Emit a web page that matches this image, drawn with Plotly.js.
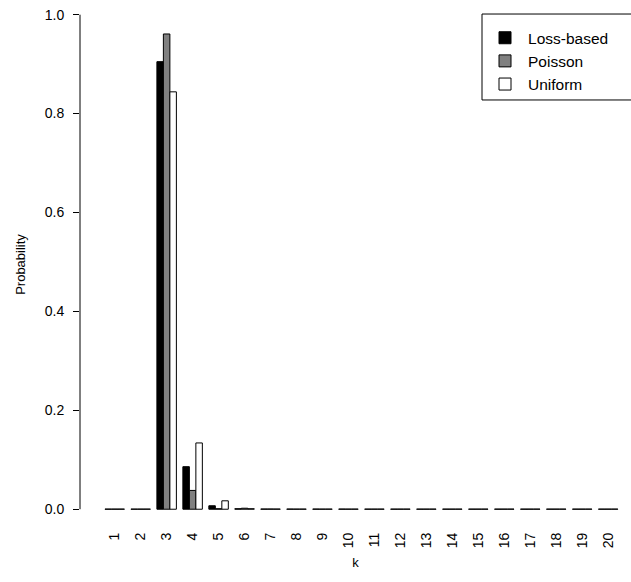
<!DOCTYPE html>
<html>
<head>
<meta charset="utf-8">
<script src="https://cdn.plot.ly/plotly-3.0.1.min.js"></script>
<style>
  html, body { margin: 0; padding: 0; background: #ffffff; }
  #chart { width: 631px; height: 582px; }
</style>
</head>
<body>
<div id="chart"></div>
<script>
// Categories (k) and tick labels
var kValues = [1, 2, 3, 4, 5, 6, 7, 8, 9, 10, 11, 12, 13, 14, 15, 16, 17, 18, 19, 20];
var kLabels = ["1", "2", "3", "4", "5", "6", "7", "8", "9", "10", "11", "12", "13", "14", "15", "16", "17", "18", "19", "20"];

// Series values (probabilities)
var lossBased = [0.0003, 0.0003, 0.905, 0.086, 0.007, 0.001, 0.0005, 0.0004, 0.0004, 0.0004, 0.0003, 0.0003, 0.0003, 0.0003, 0.0003, 0.0003, 0.0003, 0.0003, 0.0003, 0.0003];
var poisson   = [0.0003, 0.0003, 0.961, 0.038, 0.001, 0.002, 0.0005, 0.0003, 0.0003, 0.0003, 0.0003, 0.0003, 0.0003, 0.0003, 0.0003, 0.0003, 0.0003, 0.0003, 0.0003, 0.0003];
var uniform   = [0.0003, 0.0003, 0.844, 0.134, 0.017, 0.001, 0.0004, 0.0003, 0.0003, 0.0003, 0.0003, 0.0003, 0.0003, 0.0003, 0.0003, 0.0003, 0.0003, 0.0003, 0.0003, 0.0003];

var seriesNames = ["Loss-based", "Poisson", "Uniform"];
var yTicks = [0, 0.2, 0.4, 0.6, 0.8, 1.0];

var fontFamily = "Liberation Sans, Arial, sans-serif";

function barTrace(name, values, color) {
  return {
    type: "bar",
    name: name,
    x: kValues,
    y: values,
    marker: { color: color, line: { color: "#000000", width: 1 } },
    hoverinfo: "x+y+name"
  };
}

var data = [
  barTrace(seriesNames[0], lossBased, "#000000"),
  barTrace(seriesNames[1], poisson, "#808080"),
  barTrace(seriesNames[2], uniform, "#ffffff")
];

var layout = {
  width: 631,
  height: 582,
  margin: { l: 80, r: 0, t: 0, b: 53, pad: 0 },
  paper_bgcolor: "#ffffff",
  plot_bgcolor: "#ffffff",
  font: { family: fontFamily, size: 14, color: "#000000" },
  barmode: "group",
  bargap: 0.25,
  bargroupgap: 0,
  showlegend: true,
  legend: {
    x: 0.7296, y: 0.96, xanchor: "left", yanchor: "top",
    bgcolor: "rgba(0,0,0,0)", borderwidth: 0,
    font: { family: fontFamily, size: 15.5, color: "#000000" },
    tracegroupgap: 0,
    itemwidth: 36
  },
  xaxis: {
    type: "linear",
    range: [-0.336, 20.88],
    tickmode: "array",
    tickvals: kValues,
    ticktext: kLabels,
    tickangle: -90,
    ticks: "",
    showline: false,
    showgrid: false,
    zeroline: false,
    tickfont: { family: fontFamily, size: 14, color: "#000000" },
    title: { text: "k", standoff: 10, font: { family: fontFamily, size: 13, color: "#000000" } }
  },
  yaxis: {
    range: [-0.04, 1.0297],
    tickmode: "array",
    tickvals: yTicks,
    tickformat: ".1f",
    ticks: "outside",
    ticklen: 6,
    tickwidth: 1,
    tickcolor: "#000000",
    ticklabelstandoff: 6,
    showline: false,
    showgrid: false,
    zeroline: false,
    tickfont: { family: fontFamily, size: 14, color: "#000000" },
    title: { text: "Probability", standoff: 16, font: { family: fontFamily, size: 13, color: "#000000" } }
  },
  shapes: [
    { type: "line", xref: "paper", yref: "y", x0: 0, x1: 0, y0: yTicks[0], y1: yTicks[yTicks.length - 1],
      line: { color: "#000000", width: 1 } },
    { type: "rect", xref: "paper", yref: "paper", x0: 0.7296, x1: 1.03, y0: 0.811, y1: 0.9735,
      line: { color: "#000000", width: 1 }, fillcolor: "rgba(0,0,0,0)", layer: "above" }
  ]
};

Plotly.newPlot("chart", data, layout, { displayModeBar: false, staticPlot: true });
</script>
</body>
</html>
